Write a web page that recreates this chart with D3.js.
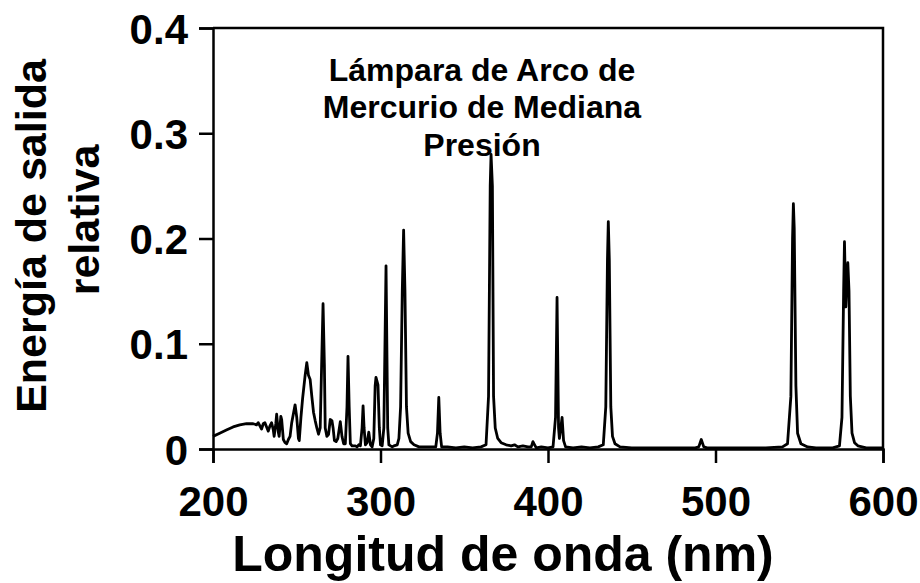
<!DOCTYPE html>
<html><head><meta charset="utf-8">
<script src="https://cdn.jsdelivr.net/npm/d3@7"></script>
<style>body{margin:0;background:#fff}svg{display:block}text{font-family:"Liberation Sans",Arial,sans-serif;font-weight:bold;fill:#000}</style>
</head><body><svg id="c" width="920" height="583"></svg>
<script>
const xTicks = [200, 300, 400, 500, 600];
const yTicks = [0, 0.1, 0.2, 0.3, 0.4];
const yTickLabels = ["0", "0.1", "0.2", "0.3", "0.4"];
const titleLines = ["Lámpara de Arco de", "Mercurio de Mediana", "Presión"];
const xTitle = "Longitud de onda (nm)";
const yTitleLines = ["Energía de salida", "relativa"];
const wavelength = [200,204,208,212,216,220,224,226,227,228,229,230,231,232,233,234,235,236,236.5,237.5,238,239,239.5,240.5,241,242,243,244,245,246,247,249,250,251,251.5,252.5,253.5,255,256,257,258,259,260,261,262,263,264,265,265.7,266.5,267,268,269,270,271,271.7,272.5,273.5,274.5,276,277,278,279,280,280.6,281.3,282,283,285,286,287,288,289,289.6,290.2,291,292,293,294,295,296,296.8,297.3,298.5,299.3,300,301,302,303.3,304.3,305,306,307,308,310,311,312,313,313.8,314.6,315.5,316.5,318,320,323,326,330,333,334,334.8,335.6,336.5,340,345,350,355,360,363,364.5,365.5,366,366.8,367.5,368.5,370,372,375,378,380,382,385,388,390,391,392,393,396,400,403,404.5,405.4,406.3,406.8,407.5,408.4,409.3,410.5,415,420,425,430,433,434.5,435.5,436,436.6,437.5,438.5,440,443,450,460,470,480,488,490,491.5,493,495,500,510,520,530,540,543,545,546,546.5,547,548,549,551,555,560,570,574,575.5,576.5,577,577.8,578.5,579,579.7,580.5,581.5,583,585,590,600];
const energy = [0.012,0.015,0.018,0.021,0.023,0.024,0.024,0.023,0.025,0.022,0.019,0.024,0.025,0.021,0.017,0.022,0.025,0.018,0.012,0.024,0.033,0.016,0.012,0.031,0.028,0.009,0.006,0.005,0.009,0.012,0.025,0.042,0.03,0.01,0.008,0.03,0.048,0.07,0.082,0.07,0.066,0.05,0.035,0.027,0.02,0.014,0.02,0.09,0.138,0.08,0.02,0.012,0.014,0.028,0.027,0.02,0.008,0.007,0.01,0.026,0.012,0.005,0.005,0.04,0.088,0.04,0.005,0.003,0.003,0.002,0.004,0.003,0.02,0.041,0.02,0.004,0.006,0.016,0.004,0.002,0.01,0.06,0.068,0.061,0.02,0.004,0.003,0.02,0.174,0.02,0.004,0.003,0.002,0.003,0.004,0.01,0.04,0.15,0.208,0.15,0.04,0.015,0.007,0.004,0.002,0.002,0.002,0.002,0.015,0.049,0.015,0.002,0.002,0.001,0.002,0.001,0.002,0.004,0.05,0.25,0.28,0.25,0.05,0.02,0.01,0.006,0.004,0.003,0.004,0.002,0.003,0.002,0.002,0.007,0.004,0.001,0.002,0.001,0.002,0.03,0.144,0.02,0.01,0.018,0.03,0.008,0.002,0.001,0.002,0.001,0.002,0.004,0.04,0.18,0.216,0.18,0.04,0.012,0.005,0.002,0.001,0.001,0.001,0.001,0.001,0.002,0.009,0.002,0.001,0.001,0.001,0.001,0.001,0.002,0.005,0.05,0.2,0.233,0.21,0.06,0.015,0.005,0.002,0.001,0.001,0.003,0.03,0.15,0.197,0.135,0.16,0.177,0.15,0.05,0.015,0.006,0.003,0.001,0.001];

const svg = d3.select("#c");
const L = 213, R = 883, T = 28, B = 449;
const x = d3.scaleLinear().domain([200, 600]).range([L, R]);
const y = d3.scaleLinear().domain([0, 0.4]).range([B, T]);

// frame
svg.append("path").attr("d", `M${L},${T}H${R}V${B}`).attr("fill", "none").attr("stroke", "#000").attr("stroke-width", 2.5);

// line
const data = wavelength.map((w, i) => [w, energy[i]]);
svg.append("path").datum(data)
  .attr("d", d3.line().x(d => x(d[0])).y(d => y(d[1])))
  .attr("fill", "none").attr("stroke", "#000").attr("stroke-width", 2.8).attr("stroke-linejoin", "round");

// axes
const yAxis = svg.append("g").attr("transform", `translate(${L},0)`)
  .call(d3.axisLeft(y).tickValues(yTicks).tickFormat((d, i) => yTickLabels[i]).tickSize(14).tickPadding(11));
const xAxis = svg.append("g").attr("transform", `translate(0,${B})`)
  .call(d3.axisBottom(x).tickValues(xTicks).tickFormat(d3.format("d")).tickSize(14).tickPadding(23));
[yAxis, xAxis].forEach(a => {
  a.selectAll("path.domain").attr("stroke", "#000").attr("stroke-width", 2.5);
  a.selectAll(".tick line").attr("stroke", "#000").attr("stroke-width", 2.5);
  a.selectAll(".tick text").style("font-family", '"Liberation Sans", Arial, sans-serif').style("font-weight", "bold").style("font-size", "42px").attr("fill", "#000");
});
yAxis.selectAll(".tick text").attr("dy", "0.36em");

// title
const tt = svg.append("text").attr("text-anchor", "middle").style("font-size", "32px");
const titleY = [81, 118, 156];
titleLines.forEach((s, i) => tt.append("tspan").attr("x", 482).attr("y", titleY[i]).text(s));

// x title
svg.append("text").attr("x", 503).attr("y", 571).attr("text-anchor", "middle").style("font-size", "50px").text(xTitle);

// y title
const yCenters = [236, 220];
const yBase = [46, 99];
yTitleLines.forEach((s, i) => svg.append("text")
  .attr("transform", `translate(${yBase[i]},${yCenters[i]}) rotate(-90)`)
  .attr("text-anchor", "middle").style("font-size", "43px").text(s));
</script></body></html>
